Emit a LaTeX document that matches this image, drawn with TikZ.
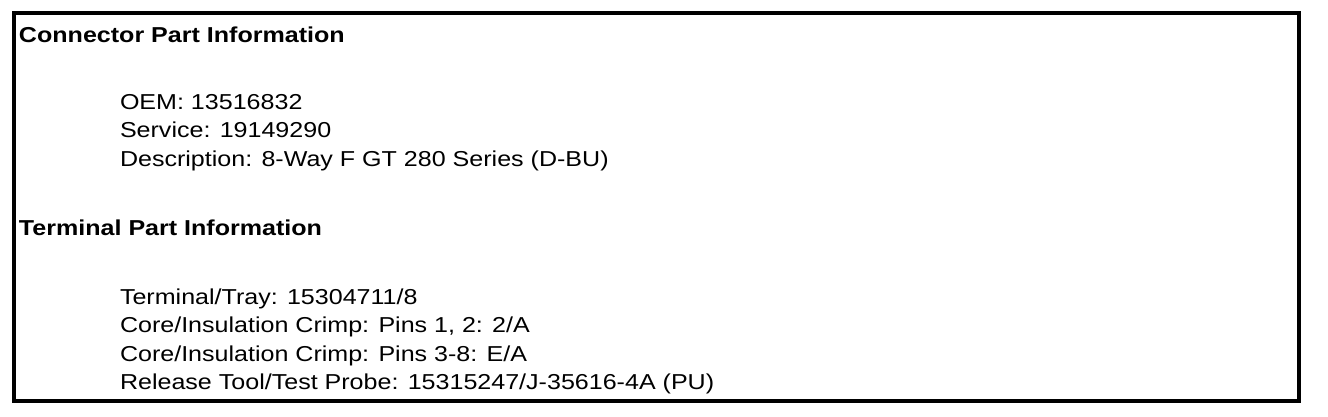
\documentclass[tikz,border=0pt]{standalone}
\usepackage{fontspec}
\setmainfont[FakeStretch=1.16]{Liberation Sans}
\begin{document}
\begin{tikzpicture}[x=1pt,y=-1pt,
  head/.style={anchor=base west, inner sep=0pt, outer sep=0pt, font=\fontsize{21.6}{26}\selectfont\bfseries},
  item/.style={anchor=base west, inner sep=0pt, outer sep=0pt, font=\fontsize{21.6}{26}\selectfont},
  frame/.style={line width=4pt, draw=black}]
\useasboundingbox (0,0) rectangle (1328,416);
\draw[frame] (14,13) rectangle (1299,401);
\node[head] (h1) at (19,42) {Connector Part Information};
\node[item] (o1) at (120,109) {OEM: 13516832};
\node[item] (o2) at (120,137.5) {Service: 19149290};
\node[item] (o3) at (120,166) {Description: 8-Way F GT 280 Series (D-BU)};
\node[head] (h2) at (19,235) {Terminal Part Information};
\node[item] (t1) at (120,304) {Terminal/Tray: 15304711/8};
\node[item] (t2) at (120,332.5) {Core/Insulation Crimp: Pins 1, 2: 2/A};
\node[item] (t3) at (120,361) {Core/Insulation Crimp: Pins 3-8: E/A};
\node[item] (t4) at (120,389) {Release Tool/Test Probe: 15315247/J-35616-4A (PU)};
\end{tikzpicture}
\end{document}
